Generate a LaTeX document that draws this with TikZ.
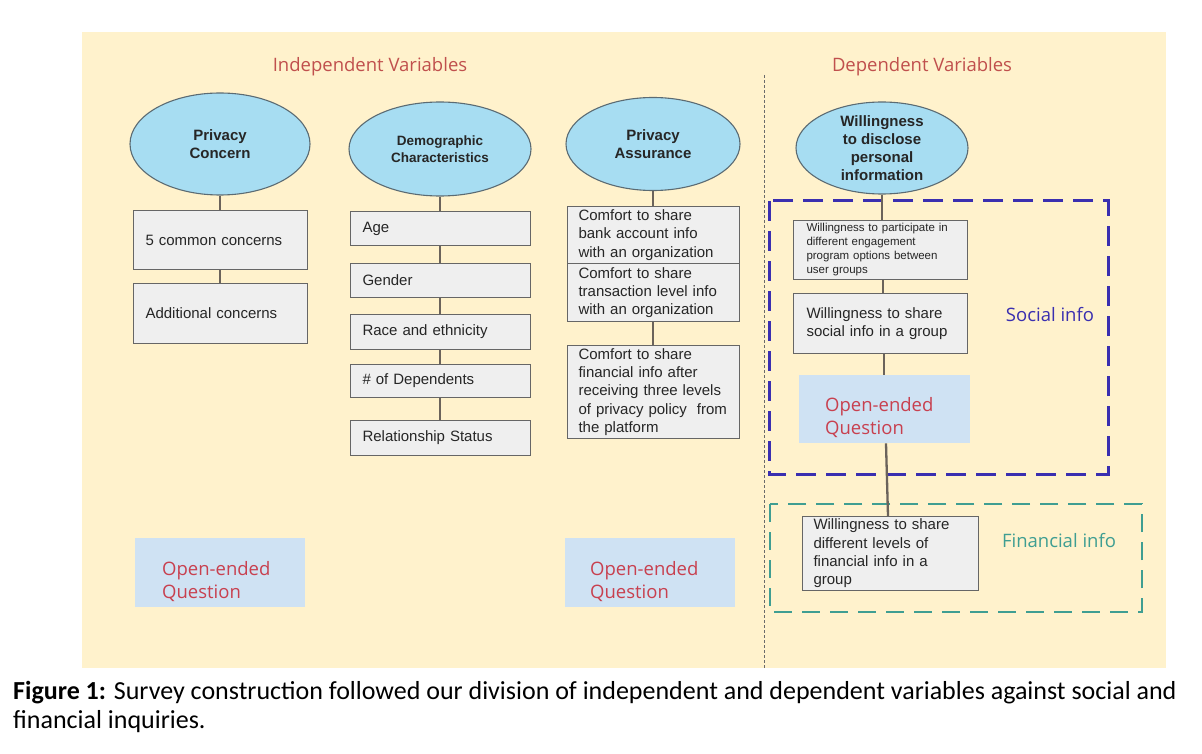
\documentclass[tikz,border=0pt]{standalone}
\usepackage{fontspec}
\setmainfont{Liberation Sans}
\newfontfamily\osans{Open Sans}
\newfontfamily\calib{Carlito}
\usetikzlibrary{shapes.geometric}
\definecolor{bgc}{HTML}{FFF2CC}
\definecolor{ellfill}{HTML}{A7DDF2}
\definecolor{ellline}{HTML}{5B6B73}
\definecolor{boxfill}{HTML}{EFEFEF}
\definecolor{boxline}{HTML}{666666}
\definecolor{conn}{HTML}{6B635B}
\definecolor{titlered}{HTML}{C0504D}
\definecolor{openred}{HTML}{C8404F}
\definecolor{openfill}{HTML}{CFE2F3}
\definecolor{socblue}{HTML}{3A2FB0}
\definecolor{finteal}{HTML}{3F9E92}
\definecolor{divline}{HTML}{6A6A6A}
\begin{document}
\begin{tikzpicture}[x=1pt,y=-1pt,
  ell/.style={ellipse, draw=ellline, line width=1.1pt, fill=ellfill, inner sep=0pt, align=center,
    font=\bfseries\fontsize{15}{17.5}\selectfont, text=black!85},
  bx/.style={draw=boxline, line width=1pt, fill=boxfill, inner xsep=12pt, inner ysep=0pt,
    align=left, anchor=north west, font=\fontsize{15}{18.3}\selectfont, text=black!85},
  sbx/.style={bx, font=\fontsize{11.5}{14}\selectfont},
  openbox/.style={fill=openfill, inner sep=0pt, anchor=north west},
  opentext/.style={align=left, anchor=west, inner sep=0pt, text=openred,
    font=\osans\fontsize{18.5}{23}\selectfont},
  title/.style={text=titlered, inner sep=0pt, font=\osans\fontsize{18.5}{22}\selectfont},
  cn/.style={draw=conn, line width=2.3pt},
  grp/.style={line width=3pt, dash pattern=on 20pt off 10pt},
  captext/.style={anchor=base west, inner sep=0pt, font=\calib\fontsize{26}{29}\selectfont, text=black}
]
\useasboundingbox (0,0) rectangle (1202,754);
\fill[white] (0,0) rectangle (1202,754);
\fill[bgc] (82,32) rectangle (1166,668);

% titles
\node[title] (indep) at (370,67) {Independent Variables};
\node[title] (dep) at (922,67) {Dependent Variables};

% divider
\coordinate (dtop) at (764,75);
\coordinate (dbot) at (764,669);
\draw[divline, line width=1pt, dash pattern=on 3pt off 2pt] (dtop) -- (dbot);

% group frames
\draw[grp, socblue] (769,201) rectangle (1108,474);
\draw[grp, finteal, line width=2.5pt, dash pattern=on 18pt off 10pt] (770,504) rectangle (1142,612);
\node[text=socblue, inner sep=0pt, font=\osans\fontsize{18.5}{22}\selectfont] (soc) at (1050,315) {Social info};
\node[text=finteal, inner sep=0pt, font=\osans\fontsize{18.5}{22}\selectfont] (fin) at (1059,541) {Financial info};

% ellipses
\node[ell, minimum width=180pt, minimum height=102pt] (pc) at (220,144) {Privacy\\Concern};
\node[ell, minimum width=182pt, minimum height=94pt, font=\bfseries\fontsize{13.5}{17.5}\selectfont] (dc) at (440,149) {Demographic\\Characteristics};
\node[ell, minimum width=174pt, minimum height=93pt] (pa) at (653,144) {Privacy\\Assurance};
\node[ell, minimum width=172pt, minimum height=92pt, font=\bfseries\fontsize{15}{18}\selectfont] (wd) at (882,148) {Willingness\\to disclose\\personal\\information};

% privacy concern column
\node[bx, text width=150pt, minimum height=59pt] (pc1) at (133,210) {5 common concerns};
\node[bx, text width=150pt, minimum height=60pt] (pc2) at (133,283) {Additional concerns};

% demographics column
\node[bx, text width=156pt, minimum height=34pt] (d1) at (350,211) {Age};
\node[bx, text width=156pt, minimum height=34pt] (d2) at (350,263) {Gender};
\node[bx, text width=156pt, minimum height=35pt] (d3) at (350,314) {Race and ethnicity};
\node[bx, text width=156pt, minimum height=33pt] (d4) at (350,364) {\# of Dependents};
\node[bx, text width=156pt, minimum height=35pt] (d5) at (350,420) {Relationship Status};

% privacy assurance column
\node[bx, inner xsep=11pt, text width=150pt, minimum height=57pt] (pa1) at (567,206) {Comfort to share\\bank account info\\with an organization};
\node[bx, inner xsep=11pt, text width=150pt, minimum height=58pt] (pa2) at (567,263) {Comfort to share\\transaction level info\\with an organization};
\node[bx, inner xsep=11pt, text width=150pt, minimum height=93pt] (pa3) at (567,345) {Comfort to share\\financial info after\\receiving three levels\\of privacy policy \ from\\the platform};

% dependent column
\node[sbx, inner xsep=13pt, text width=148pt, minimum height=59pt] (w1) at (793,220) {Willingness to participate in\\different engagement\\program options between\\user groups};
\node[bx, inner xsep=13pt, text width=148pt, minimum height=60pt] (w2) at (793,293) {Willingness to share\\social info in a group};
\node[bx, inner xsep=11pt, text width=154pt, minimum height=74pt] (w3) at (802,516) {Willingness to share\\different levels of\\financial info in a\\group};

% open-ended boxes
\node[openbox, minimum width=171pt, minimum height=68pt] (oq3) at (799,375) {};
\node[opentext] (oq3t) at (825,418) {Open-ended\\Question};
\node[openbox, minimum width=170pt, minimum height=69pt] (oq1) at (135,538) {};
\node[opentext] (oq1t) at (162,582) {Open-ended\\Question};
\node[openbox, minimum width=170pt, minimum height=69pt] (oq2) at (565,538) {};
\node[opentext] (oq2t) at (590,582) {Open-ended\\Question};

% connectors
\draw[cn] (pc.south) -- (pc1.north -| pc.south);
\draw[cn] (pc1.south -| pc.south) -- (pc2.north -| pc.south);
\draw[cn] (dc.south) -- (d1.north -| dc.south);
\draw[cn] (d1.south -| dc.south) -- (d2.north -| dc.south);
\draw[cn] (d2.south -| dc.south) -- (d3.north -| dc.south);
\draw[cn] (d3.south -| dc.south) -- (d4.north -| dc.south);
\draw[cn] (d4.south -| dc.south) -- (d5.north -| dc.south);
\draw[cn] (pa.south) -- (pa1.north -| pa.south);
\draw[cn] (pa2.south -| pa.south) -- (pa3.north -| pa.south);
\draw[cn] (wd.south) -- (w1.north -| wd.south);
\draw[cn] ([xshift=1pt]w1.south -| wd.south) -- ([xshift=1pt]w2.north -| wd.south);
\draw[cn] ([xshift=2pt]w2.south -| wd.south) -- ([xshift=2pt]oq3.north -| wd.south);
\draw[cn] ([xshift=4pt]oq3.south -| wd.south) -- ([xshift=6pt]w3.north -| wd.south);

% caption
\node[captext] (cap1) at (13,699) {\textbf{Figure 1:} Survey construction followed our division of independent and dependent variables against social and};
\node[captext] (cap2) at (13,728) {financial inquiries.};
\end{tikzpicture}
\end{document}
